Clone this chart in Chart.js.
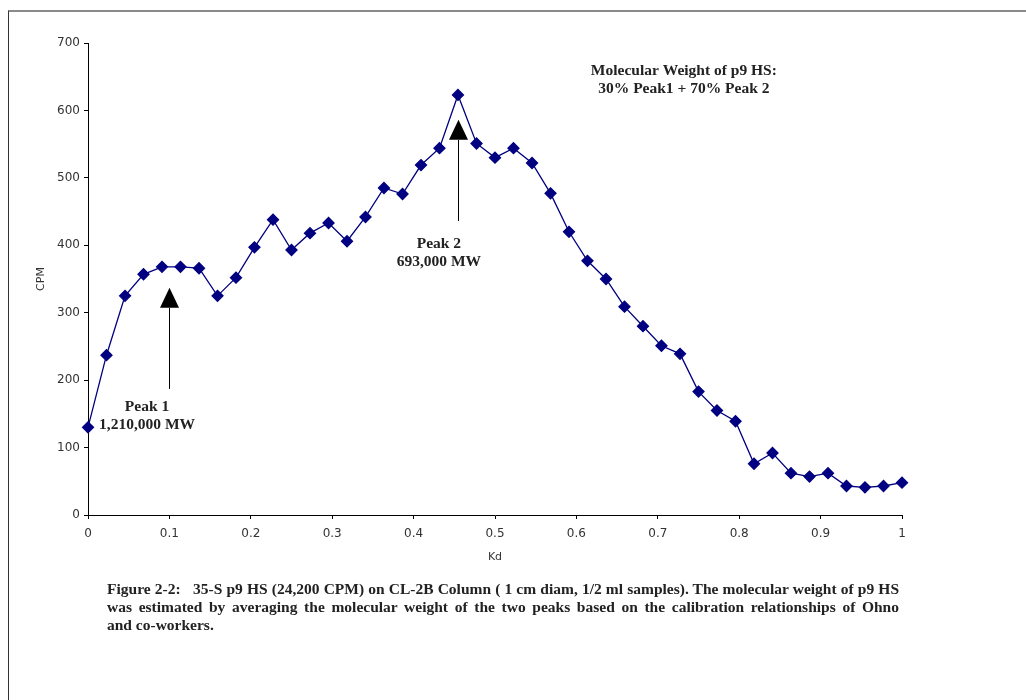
<!DOCTYPE html>
<html>
<head>
<meta charset="utf-8">
<script src="https://cdn.jsdelivr.net/npm/chart.js@4.4.0/dist/chart.umd.min.js"></script>
<style>
  html, body { margin: 0; padding: 0; background: #fff; }
  #page { position: relative; width: 1026px; height: 700px; overflow: hidden; }
  #frame { position: absolute; left: 8px; top: 10px; right: 0; bottom: 0;
           border-top: 2px solid #8a8a8a; border-left: 1px solid #333; }
  #chart { position: absolute; left: 0; top: 0; }
  #caption { position: absolute; left: 107px; top: 580px; width: 792px;
             font-family: "Liberation Serif", serif; font-weight: bold;
             font-size: 15.5px; line-height: 18px; color: #222; white-space: nowrap; }
  #caption .j { text-align: justify; text-align-last: justify; }
</style>
</head>
<body>
<div id="page">
  <div id="frame"></div>
  <canvas id="chart" width="1026" height="700"></canvas>
  <div id="caption">
    <div class="j">Figure 2-2:&nbsp;&nbsp; 35-S p9 HS (24,200 CPM) on CL-2B Column ( 1 cm diam, 1/2 ml samples). The molecular weight of p9 HS</div>
    <div class="j">was estimated by averaging the molecular weight of the two peaks based on the calibration relationships of Ohno</div>
    <div>and co-workers.</div>
  </div>
</div>
<script>
// fraction index -> Kd (45 fractions, 0..1)
const kd = [
  0, 0.0227, 0.0455, 0.0682, 0.0909, 0.1136, 0.1364, 0.1591, 0.1818, 0.2045,
  0.2273, 0.25, 0.2727, 0.2955, 0.3182, 0.3409, 0.3636, 0.3864, 0.4091, 0.4318,
  0.4545, 0.4773, 0.5, 0.5227, 0.5455, 0.5682, 0.5909, 0.6136, 0.6364, 0.6591,
  0.6818, 0.7045, 0.7273, 0.75, 0.7727, 0.7955, 0.8182, 0.8409, 0.8636, 0.8864,
  0.9091, 0.9318, 0.9545, 0.9773, 1
];
const cpm = [
  130, 237, 325, 357, 368, 368, 366, 325, 352, 397,
  438, 393, 418, 433, 406, 442, 485, 476, 519, 544,
  623, 551, 530, 544, 522, 477, 420, 377, 350, 309,
  280, 251, 239, 183, 155, 139, 76, 92, 62, 57,
  62, 43, 41, 43, 48
];
const xTicks = [0, 0.1, 0.2, 0.3, 0.4, 0.5, 0.6, 0.7, 0.8, 0.9, 1];
const yTicks = [0, 100, 200, 300, 400, 500, 600, 700];

const points = kd.map((x, i) => ({ x: x, y: cpm[i] }));

// arrows + text notes, anchored in data coordinates
const notes = {
  arrows: [
    { x: 0.1, tip: 337, from: 187 },
    { x: 0.4545, tip: 586, from: 436 }
  ],
  labels: [
    { x: 0.0725, y: 160, text: "Peak 1" },
    { x: 0.0725, y: 133.5, text: "1,210,000 MW" },
    { x: 0.431, y: 402, text: "Peak 2" },
    { x: 0.431, y: 375, text: "693,000 MW" },
    { x: 0.732, y: 658, text: "Molecular Weight of p9 HS:" },
    { x: 0.732, y: 632, text: "30% Peak1 + 70% Peak 2" }
  ]
};

const notesPlugin = {
  id: "notes",
  afterDatasetsDraw(chart) {
    const ctx = chart.ctx;
    const xs = chart.scales.x, ys = chart.scales.y;
    ctx.save();
    notes.arrows.forEach(a => {
      const px = Math.round(xs.getPixelForValue(a.x)) + 0.5;
      const tip = ys.getPixelForValue(a.tip);
      const base = tip + 20;
      ctx.strokeStyle = "#000";
      ctx.lineWidth = 1;
      ctx.beginPath();
      ctx.moveTo(px, ys.getPixelForValue(a.from));
      ctx.lineTo(px, base);
      ctx.stroke();
      ctx.fillStyle = "#000";
      ctx.beginPath();
      ctx.moveTo(px, tip);
      ctx.lineTo(px - 9.5, base);
      ctx.lineTo(px + 9.5, base);
      ctx.closePath();
      ctx.fill();
    });
    ctx.fillStyle = "#222";
    ctx.font = 'bold 15.5px "Liberation Serif"';
    ctx.textAlign = "center";
    ctx.textBaseline = "middle";
    notes.labels.forEach(l => {
      ctx.fillText(l.text, xs.getPixelForValue(l.x), ys.getPixelForValue(l.y));
    });
    ctx.restore();
  }
};

new Chart(document.getElementById("chart"), {
  type: "scatter",
  data: {
    datasets: [{
      data: points,
      showLine: true,
      borderColor: "#000080",
      backgroundColor: "#000080",
      borderWidth: 1.3,
      pointStyle: "rectRot",
      pointRadius: 5.5,
      pointHoverRadius: 5.5,
      clip: false
    }]
  },
  options: {
    responsive: false,
    animation: false,
    layout: { padding: { left: 31, top: 43, right: 124, bottom: 132 } },
    plugins: {
      legend: { display: false },
      tooltip: { enabled: false }
    },
    scales: {
      x: {
        type: "linear",
        min: 0,
        max: 1,
        afterFit: s => { s.height = 53; },
        afterBuildTicks: s => { s.ticks = xTicks.map(v => ({ value: v })); },
        border: { display: true, color: "#000", width: 1 },
        grid: { drawOnChartArea: false, drawTicks: true, tickLength: 4, color: "#000" },
        ticks: { color: "#333", padding: 8, font: { family: "DejaVu Sans", size: 12 },
                 callback: v => String(v) },
        title: { display: true, text: "Kd", color: "#333",
                 font: { family: "DejaVu Sans", size: 11 } }
      },
      y: {
        min: 0,
        max: 700,
        afterFit: s => { s.width = 57; },
        afterBuildTicks: s => { s.ticks = yTicks.map(v => ({ value: v })); },
        border: { display: true, color: "#000", width: 1 },
        grid: { drawOnChartArea: false, drawTicks: true, tickLength: 4, color: "#000" },
        ticks: { color: "#333", padding: 4, font: { family: "DejaVu Sans", size: 12 } },
        title: { display: true, text: "CPM", color: "#333",
                 font: { family: "DejaVu Sans", size: 11 } }
      }
    }
  },
  plugins: [notesPlugin]
});
</script>
</body>
</html>
